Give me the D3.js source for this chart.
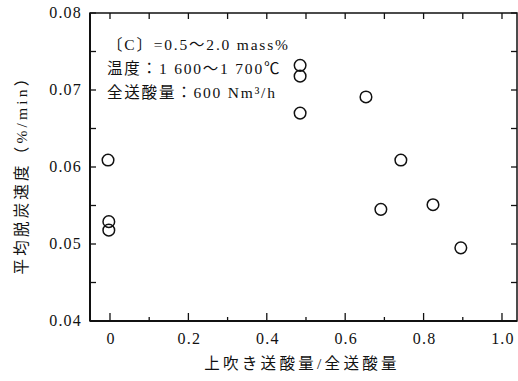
<!DOCTYPE html>
<html>
<head>
<meta charset="utf-8">
<script src="https://cdn.jsdelivr.net/npm/d3@7"></script>
<style>
  body { margin: 0; background: #fff; }
  svg { display: block; }
</style>
</head>
<body>
<svg id="chart" width="518" height="381"></svg>
<script>
// ratio of top-blown oxygen to total oxygen
const ratio = [-0.005, -0.003, -0.003, 0.485, 0.485, 0.485, 0.653, 0.691, 0.742, 0.824, 0.895];
// mean decarburization rate (%/min)
const rate = [0.0609, 0.0529, 0.0518, 0.0732, 0.0718, 0.0670, 0.0691, 0.0545, 0.0609, 0.0551, 0.0495];

const xTicks = [0, 0.2, 0.4, 0.6, 0.8, 1.0];
const xTickLabels = ["0", "0.2", "0.4", "0.6", "0.8", "1.0"];
const yTicks = [0.04, 0.05, 0.06, 0.07, 0.08];
const yTickLabels = ["0.04", "0.05", "0.06", "0.07", "0.08"];
const notes = ["〔C〕=0.5～2.0 mass%", "温度：1 600～1 700℃", "全送酸量：600 Nm³/h"];

const FONT = '"Liberation Serif", "Noto Sans CJK JP", serif';
const mLeft = 90, mRight = 517, mTop = 13, mBottom = 321;
const svg = d3.select("#chart");

const x = d3.scaleLinear().domain([-0.051, 1.0383]).range([mLeft, mRight]);
const y = d3.scaleLinear().domain([0.04, 0.08]).range([mBottom, mTop]);

const minorX = d3.range(0, 1.01, 0.1);
const minorY = d3.range(0.04, 0.0801, 0.005);

// frame
svg.append("rect")
  .attr("x", mLeft).attr("y", mTop)
  .attr("width", mRight - mLeft).attr("height", mBottom - mTop)
  .attr("fill", "none").attr("stroke", "#111").attr("stroke-width", 1.5);
svg.append("line").attr("x1", mLeft).attr("x2", mRight).attr("y1", mBottom).attr("y2", mBottom)
  .attr("stroke", "#111").attr("stroke-width", 2);
svg.append("line").attr("x1", mLeft).attr("x2", mLeft).attr("y1", mTop).attr("y2", mBottom)
  .attr("stroke", "#111").attr("stroke-width", 2);

// inward ticks, bottom and top
const isMajorX = v => xTicks.some(t => Math.abs(t - v) < 1e-6);
svg.append("g").selectAll("line").data(minorX).join("line")
  .attr("x1", d => x(d)).attr("x2", d => x(d))
  .attr("y1", mBottom).attr("y2", d => mBottom - (isMajorX(d) ? 8 : 4))
  .attr("stroke", "#111").attr("stroke-width", 1.3);
svg.append("g").selectAll("line").data(minorX).join("line")
  .attr("x1", d => x(d)).attr("x2", d => x(d))
  .attr("y1", mTop).attr("y2", mTop + 6)
  .attr("stroke", "#111").attr("stroke-width", 1.3);

// inward ticks, left and right
svg.append("g").selectAll("line").data(minorY).join("line")
  .attr("x1", mLeft).attr("x2", mLeft + 6)
  .attr("y1", d => y(d)).attr("y2", d => y(d))
  .attr("stroke", "#111").attr("stroke-width", 1.3);
svg.append("g").selectAll("line").data(minorY).join("line")
  .attr("x1", mRight).attr("x2", mRight - 6)
  .attr("y1", d => y(d)).attr("y2", d => y(d))
  .attr("stroke", "#111").attr("stroke-width", 1.3);

// tick labels
svg.append("g").selectAll("text").data(xTicks).join("text")
  .attr("font-family", FONT).attr("font-size", 16).attr("letter-spacing", 1.2)
  .attr("fill", "#111")
  .attr("x", d => x(d) + 1).attr("y", 344)
  .attr("text-anchor", "middle")
  .text((d, i) => xTickLabels[i]);
svg.append("g").selectAll("text").data(yTicks).join("text")
  .attr("font-family", FONT).attr("font-size", 16).attr("letter-spacing", 1.2)
  .attr("fill", "#111")
  .attr("x", 82).attr("y", d => y(d) + 5)
  .attr("text-anchor", "end")
  .text((d, i) => yTickLabels[i]);

// axis titles
svg.append("text")
  .attr("font-family", FONT).attr("font-size", 15.5).attr("letter-spacing", 3.3)
  .attr("fill", "#111")
  .attr("x", 302).attr("y", 369)
  .attr("text-anchor", "middle")
  .text("上吹き送酸量/全送酸量");
svg.append("text")
  .attr("font-family", FONT).attr("font-size", 15.5).attr("letter-spacing", 3.2)
  .attr("fill", "#111")
  .attr("transform", "translate(27,171) rotate(-90)")
  .attr("text-anchor", "middle")
  .text("平均脱炭速度（%/min）");

// conditions
svg.append("g").selectAll("text").data(notes).join("text")
  .attr("font-family", FONT).attr("font-size", 15.5).attr("letter-spacing", 1.8)
  .attr("fill", "#111")
  .attr("x", 107).attr("y", (d, i) => 50 + i * 24)
  .text(d => d);

// points
svg.append("g").selectAll("circle").data(ratio).join("circle")
  .attr("cx", d => x(d))
  .attr("cy", (d, i) => y(rate[i]))
  .attr("r", 5.8)
  .attr("fill", "none").attr("stroke", "#111").attr("stroke-width", 1.5);
</script>
</body>
</html>
